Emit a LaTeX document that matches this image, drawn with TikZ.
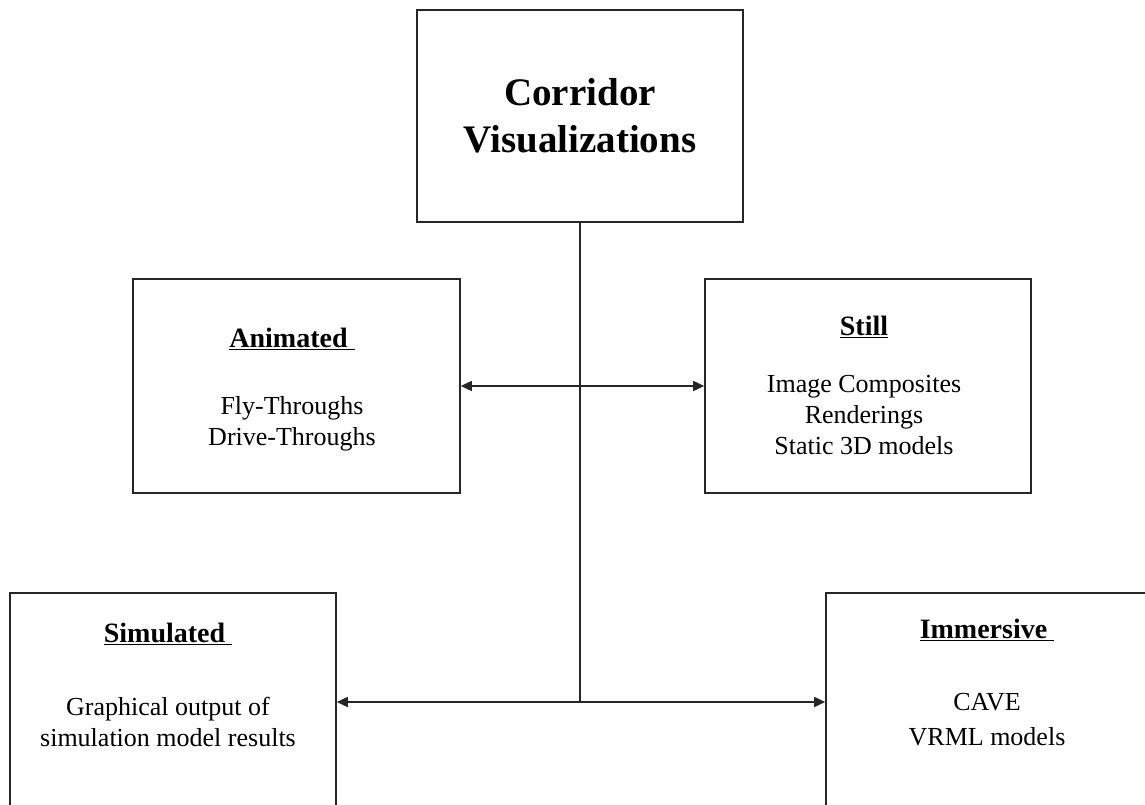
\documentclass[tikz,border=0pt]{standalone}
\usepackage{fontspec}
\setmainfont{Liberation Serif}
\usetikzlibrary{arrows.meta}

\newcommand{\boxhead}[1]{{\fontsize{28}{31}\selectfont\underline{\textbf{#1}}}}

\begin{document}
\begin{tikzpicture}[x=1pt, y=-1pt,
        box/.style={rectangle, draw=black!85, line width=1.6pt, inner sep=0pt},
        txt/.style={align=center, anchor=north, inner sep=0pt, font=\fontsize{26}{31}\selectfont},
        link/.style={draw=black!85, line width=1.6pt},
        tips/.style={{Triangle[length=11pt,width=10pt]}-{Triangle[length=11pt,width=10pt]}}]
        \useasboundingbox (0,0) rectangle (1145,805);
        \clip (0,0) rectangle (1145,805);

        \node[box, minimum width=326pt, minimum height=212pt, align=center, font=\fontsize{39}{47}\selectfont\bfseries] (corr) at (580,116) {Corridor\\Visualizations};
        \node[box, minimum width=327pt, minimum height=214pt] (anim) at (296.5,386) {};
        \node[box, minimum width=326pt, minimum height=214pt] (still) at (868,386) {};
        \node[box, minimum width=326pt, minimum height=218pt] (sim) at (173,702) {};
        \node[box, minimum width=324pt, minimum height=218pt] (imm) at (988,702) {};

        \node[txt] (animTxt) at (292,328) {\boxhead{Animated\ }\\[36pt]Fly-Throughs\\Drive-Throughs};
        \node[txt] (stillTxt) at (864,316) {\boxhead{Still}\\[26pt]Image Composites\\Renderings\\Static 3D models};
        \node[txt] (simTxt) at (168,623) {\boxhead{Simulated\ }\\[42pt]Graphical output of\\simulation model results};
        \node[txt] (immTxt) at (987,619) {\boxhead{Immersive\ }\\[41pt]CAVE\\[4pt]VRML models};

        \coordinate (stem) at (580,702);

        \draw[link] (corr.south) -- (stem);
        \draw[link, tips] (anim.east) -- (still.west);
        \draw[link, tips] (sim.east) -- (imm.west);
    \end{tikzpicture}
\end{document}
